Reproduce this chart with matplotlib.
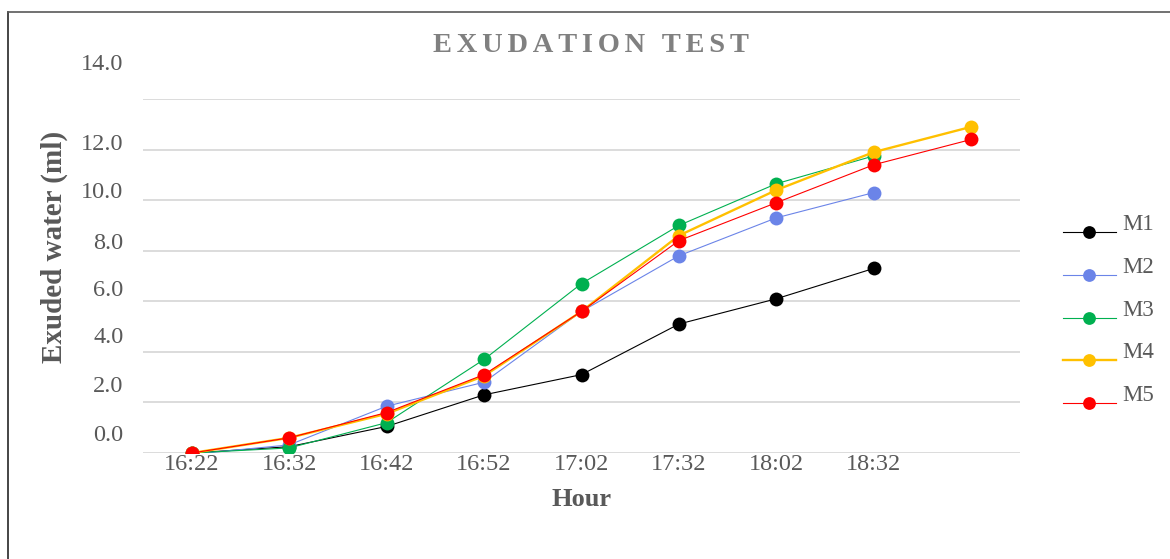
import matplotlib
matplotlib.use("Agg")
import matplotlib.pyplot as plt
from matplotlib.lines import Line2D
from matplotlib.transforms import ScaledTranslation

# ---- data ----
hours = ["16:22", "16:32", "16:42", "16:52", "17:02", "17:32", "18:02", "18:32", ""]
m1 = [0.0, 0.25, 1.05, 2.3, 3.1, 5.1, 6.1, 7.3]
m2 = [-0.05, 0.32, 1.85, 2.8, 5.6, 7.8, 9.3, 10.3]
m3 = [0.0, 0.2, 1.2, 3.7, 6.7, 9.0, 10.65, 11.75]
m4 = [0.0, 0.6, 1.55, 3.05, 5.6, 8.6, 10.4, 11.9, 12.9]
m5 = [0.0, 0.6, 1.6, 3.1, 5.6, 8.4, 9.9, 11.4, 12.4]
series_names = ["M1", "M2", "M3", "M4", "M5"]
yticks = [0, 2, 4, 6, 8, 10, 12, 14]

colors = ["#000000", "#6B84E8", "#00B050", "#FFC000", "#FF0000"]
widths = [0.8, 0.8, 0.8, 1.7, 0.8]

plt.rcParams["font.family"] = ["Liberation Serif", "DejaVu Serif"]
gray = "#595959"

fig = plt.figure(figsize=(11.70, 5.59), dpi=100)
ax = fig.add_axes([143 / 1170, 1 - 453 / 559, 877 / 1170, 354 / 559])

xs = list(range(len(hours)))
for name, vals, c, lw in zip(series_names, [m1, m2, m3, m4, m5], colors, widths):
    ax.plot(xs[:len(vals)], vals, color=c, lw=lw, marker="o", markersize=10,
            markeredgewidth=0, label=name)

ax.set_xlim(-0.5, len(hours) - 0.5)
ax.set_ylim(0, 14)
ax.set_xticks(xs)
ax.set_xticklabels(hours)
ax.set_yticks(yticks)
ax.set_yticklabels([f"{v:.1f}" for v in yticks])
ax.tick_params(axis="both", length=0, labelsize=17.5, labelcolor=gray)
ax.tick_params(axis="y", pad=14)
ax.tick_params(axis="x", pad=1)
ax.grid(axis="y", color="#D9D9D9", lw=1.3)
ax.set_axisbelow(True)
for s in ax.spines.values():
    s.set_visible(False)

# y tick labels sit slightly above their grid lines in the reference
yoffs_px = [20, 18, 17, 13, 10, 10, 8, 37]
for lab, off in zip(ax.get_yticklabels(), yoffs_px):
    lab.set_transform(lab.get_transform() + ScaledTranslation(0, off / 100, fig.dpi_scale_trans))

ax.set_ylabel("Exuded water (ml)", fontsize=21, fontweight="bold", color=gray)
ax.yaxis.set_label_coords((68 - 143) / 877, (453 - 247) / 354)
ax.set_xlabel("Hour", fontsize=19, fontweight="bold", color=gray, va="center")
ax.xaxis.set_label_coords(0.5, (453 - 500) / 354)

# title with letter spacing
title = "\u2006".join(list("EXUDATION TEST"))
fig.text(591 / 1170, 1 - 46 / 559, title, ha="center", va="center",
         fontsize=20.5, fontweight="bold", color="#808080")

leg = fig.legend(loc="center left", bbox_to_anchor=(1063 / 1170, 1 - 320 / 559),
                 frameon=False, fontsize=16.5, handlelength=2.3, handletextpad=0.3,
                 labelspacing=0.95, borderpad=0, borderaxespad=0, markerscale=0.92)
for t in leg.get_texts():
    t.set_color(gray)
    t.set_transform(t.get_transform() + ScaledTranslation(0, 10 / 100, fig.dpi_scale_trans))

# outer border (top and left visible)
fig.add_artist(Line2D([8 / 1170, 8 / 1170], [0, 1 - 12 / 559], transform=fig.transFigure,
                      color="#262626", lw=1.2))
fig.add_artist(Line2D([8 / 1170, 1], [1 - 12 / 559, 1 - 12 / 559], transform=fig.transFigure,
                      color="#595959", lw=1.2))

fig.savefig("out.png", dpi=100)
